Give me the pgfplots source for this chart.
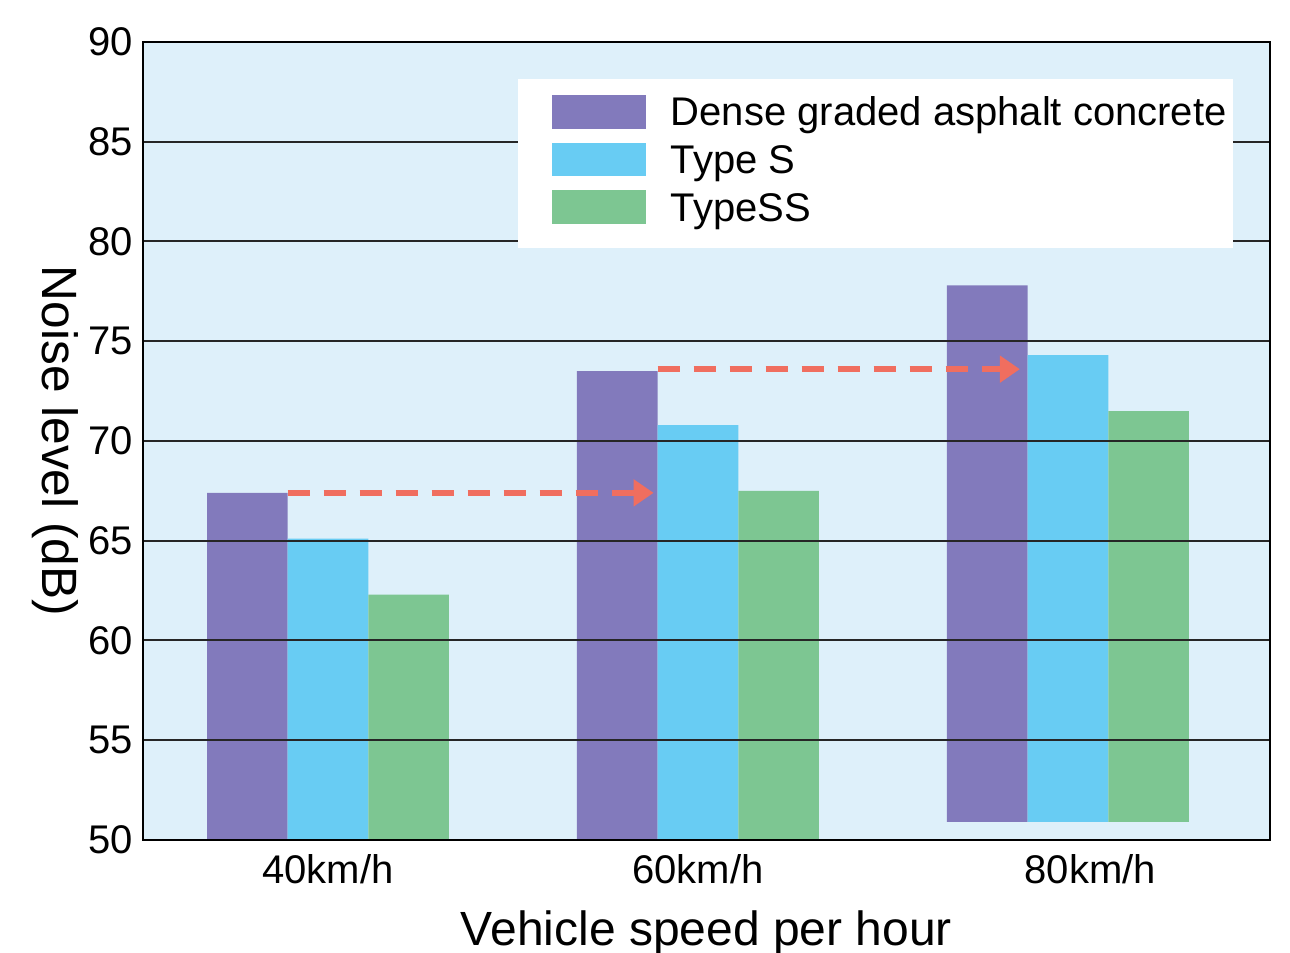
\documentclass[border=0pt]{standalone}
\usepackage{pgfplots}
\pgfplotsset{compat=1.18}
\usepackage{fontspec}
\setmainfont{Liberation Sans}
\usetikzlibrary{arrows.meta}
\definecolor{dgac}{HTML}{827ABC}
\definecolor{types}{HTML}{68CCF3}
\definecolor{typess}{HTML}{7DC692}
\definecolor{bgblue}{HTML}{DEF0FA}
\definecolor{arrowc}{HTML}{F06E5F}
\pgfplotsset{
  swatch/.style={legend image code/.code={%
    \path (0pt,0pt);
    \fill[##1] (8pt,-3.3pt) rectangle (31.5pt,5.1pt);}},
}
\begin{document}
\begin{tikzpicture}
\begin{axis}[
  name=ax,
  scale only axis, width=281.75pt, height=199.5pt,
  xmin=-0.5, xmax=2.546, ymin=50, ymax=90,
  ytick={50,55,...,90},
  xtick={0,1,2.06}, xticklabels={40km/h,60km/h,80km/h},
  ybar=0pt, bar width=0.218,
  axis on top,
  ymajorgrids,
  grid style={line width=0.5pt, color=black!85},
  axis line style={line width=0.5pt, black},
  major tick length=0pt,
  axis background/.style={fill=bgblue},
  tick label style={font=\fontsize{10}{12}\selectfont},
  yticklabel style={xshift=1pt},
  /pgf/number format/assume math mode=true,
  ylabel={Noise level (dB)},
  ylabel shift=-4.5pt,
  ylabel style={rotate=180, font=\fontsize{12.4}{14}\selectfont},
  xlabel={Vehicle speed per hour},
  xlabel style={font=\fontsize{12}{14}\selectfont},
  legend cell align=left,
  legend style={at={(rel axis cs:0.332,0.955)}, anchor=north west,
    draw=none, fill=white, font=\fontsize{10}{12}\selectfont,
    inner xsep=0.5pt, inner ysep=3pt, row sep=-0.5pt,
    /tikz/every odd column/.append style={column sep=5pt},
    nodes={text height=7.6pt, text depth=2.4pt, inner sep=1.2pt}},
]
\addplot[fill=dgac, draw=none, swatch] coordinates {(0,67.4) (1,73.5) (2,77.8)};
\addplot[fill=types, draw=none, swatch] coordinates {(0,65.1) (1,70.8) (2,74.3)};
\addplot[fill=typess, draw=none, swatch] coordinates {(0,62.3) (1,67.5) (2,71.5)};
\legend{Dense graded asphalt concrete, Type S, TypeSS}
% the 80 km/h bars do not reach the axis in the original
\fill[bgblue] (axis cs:1.6,50) rectangle (axis cs:2.4,50.9);
\draw[arrowc, line width=1.5pt, dash pattern=on 5.5pt off 3.5pt,
  -{Triangle[length=5pt,width=6.5pt]}] (axis cs:-0.109,67.4) -- (axis cs:0.88,67.4);
\draw[arrowc, line width=1.5pt, dash pattern=on 5.5pt off 3.5pt,
  -{Triangle[length=5pt,width=6.5pt]}] (axis cs:0.891,73.6) -- (axis cs:1.87,73.6);
\end{axis}
\pgfresetboundingbox
\path[use as bounding box] ([shift={(-35.75pt,-28.25pt)}]ax.south west)
  rectangle ([shift={(5pt,10.5pt)}]ax.north east);
\end{tikzpicture}
\end{document}
